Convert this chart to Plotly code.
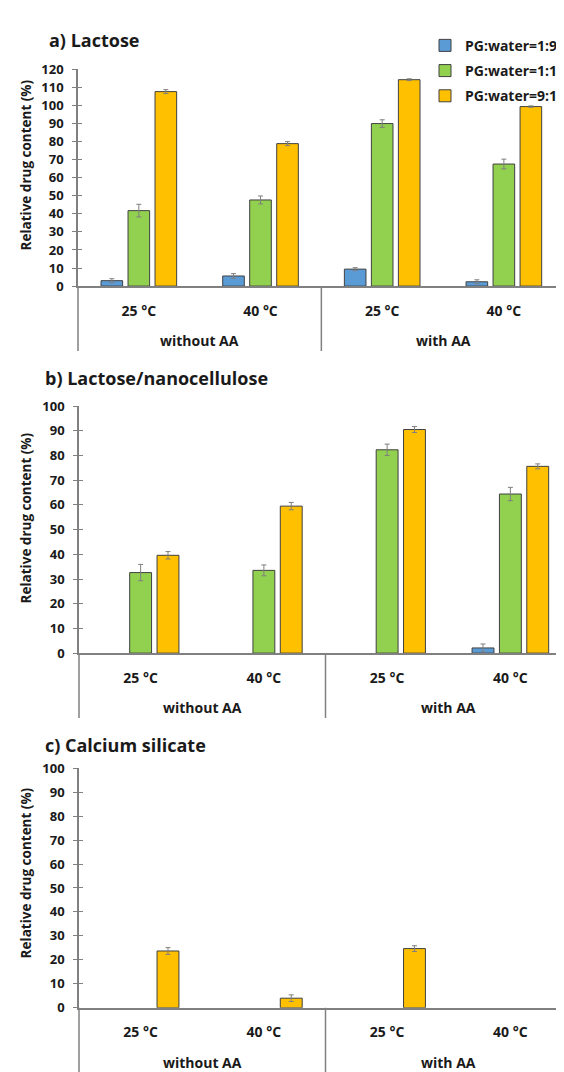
import plotly.graph_objects as go

# ---------------- data ----------------
groups = ["without AA", "with AA"]
temps = ["25 °C", "40 °C"]
series_names = ["PG:water=1:9", "PG:water=1:1", "PG:water=9:1"]
series_colors = ["#5B9BD5", "#92D050", "#FFC000"]

panel_titles = ["a) Lactose", "b) Lactose/nanocellulose", "c) Calcium silicate"]
y_max = [120, 100, 100]

# Panel a: Lactose
a_blue = [3.0, 5.6, 9.4, 2.4]
a_blue_err = [1.1, 1.3, 0.8, 1.1]
a_green = [41.8, 47.7, 90.0, 67.6]
a_green_err = [3.5, 2.2, 2.1, 2.7]
a_orange = [107.7, 78.9, 114.3, 99.4]
a_orange_err = [1.1, 1.1, 0.5, 0.4]

# Panel b: Lactose/nanocellulose
b_blue = [None, None, None, 2.1]
b_blue_err = [0, 0, 0, 1.6]
b_green = [32.6, 33.5, 82.3, 64.4]
b_green_err = [3.3, 2.2, 2.3, 2.7]
b_orange = [39.6, 59.5, 90.5, 75.6]
b_orange_err = [1.5, 1.5, 1.2, 1.0]

# Panel c: Calcium silicate
c_blue = [None, None, None, None]
c_blue_err = [0, 0, 0, 0]
c_green = [None, None, None, None]
c_green_err = [0, 0, 0, 0]
c_orange = [23.7, 4.0, 24.7, None]
c_orange_err = [1.4, 1.4, 1.2, 0]

panels = [
    [(a_blue, a_blue_err), (a_green, a_green_err), (a_orange, a_orange_err)],
    [(b_blue, b_blue_err), (b_green, b_green_err), (b_orange, b_orange_err)],
    [(c_blue, c_blue_err), (c_green, c_green_err), (c_orange, c_orange_err)],
]

# category keys (one per bar cluster)
cats = [f"{t} | {g}" for g in groups for t in temps]
cat_text = [t for g in groups for t in temps]

# ---------------- layout geometry (pixels) ----------------
W, H = 564, 1072
FONT = "Open Sans"
TXT = "#1A1A1A"
AXC = "#808080"

# plot areas: (left, right, top(y of max), bottom(y of 0))
areas = [
    (70, 556.7, 53.3, 273.7),
    (71, 564, 395.7, 647.0),
    (71, 564, 764.0, 1007.7),
]
title_pos = [(39, 23), (35, 367), (35, 740)]
ytitle_center = [151, 510, 871]


def px(x):
    return x / W


def py(y):
    return 1 - y / H


fig = go.Figure()

for p, data in enumerate(panels):
    xa = "x" if p == 0 else f"x{p + 1}"
    ya = "y" if p == 0 else f"y{p + 1}"
    for s, (vals, errs) in enumerate(data):
        fig.add_trace(go.Bar(
            x=cats, y=vals, name=series_names[s],
            marker=dict(color=series_colors[s], line=dict(color="#404040", width=1)),
            error_y=dict(type="data", array=errs, color="#7F7F7F", thickness=1, width=2.5),
            xaxis=xa, yaxis=ya,
            legendgroup=series_names[s], showlegend=(p == 0),
        ))

layout = dict(
    width=W, height=H,
    margin=dict(l=0, r=0, t=0, b=0),
    paper_bgcolor="white", plot_bgcolor="white",
    barmode="group", bargap=0.334, bargroupgap=0.2,
    showlegend=True,
    legend=dict(
        x=px(417), y=py(13), xanchor="left", yanchor="top",
        font=dict(family=FONT, size=14, color=TXT, weight="bold"),
        tracegroupgap=4, bgcolor="rgba(0,0,0,0)", itemclick=False,
    ),
    font=dict(family=FONT, color=TXT),
)

annotations = []
shapes = []
for p in range(3):
    l, r, t, b = areas[p]
    sfx = "" if p == 0 else str(p + 1)
    layout[f"xaxis{sfx}"] = dict(
        domain=[px(l), px(r)], anchor=f"y{sfx}",
        type="category", tickvals=cats, ticktext=cat_text,
        ticks="", showline=True, linecolor=AXC, linewidth=1.5,
        tickfont=dict(family=FONT, size=14, color=TXT, weight="bold"),
        ticklabelstandoff=11, showgrid=False, zeroline=False, fixedrange=True,
    )
    layout[f"yaxis{sfx}"] = dict(
        domain=[py(b), py(t)], anchor=f"x{sfx}",
        range=[0, y_max[p]], dtick=10, tick0=0,
        ticks="outside", ticklen=4, tickcolor=AXC, tickwidth=1,
        showline=True, linecolor=AXC, linewidth=1.5,
        tickfont=dict(family=FONT, size=13, color=TXT, weight="bold"),
        ticklabelstandoff=6, showgrid=False, zeroline=False, fixedrange=True,
    )
    # inside half of the cross tick marks
    ov = 4 + p
    layout[f"yaxis{ov}"] = dict(
        overlaying=f"y{sfx}", anchor=f"x{sfx}", side="left",
        range=[0, y_max[p]], dtick=10, tick0=0,
        ticks="inside", ticklen=4, tickcolor=AXC, tickwidth=1,
        showticklabels=False, showline=False, showgrid=False, zeroline=False,
        fixedrange=True,
    )
    fig.add_trace(go.Scatter(x=[], y=[], xaxis=f"x{sfx}", yaxis=f"y{ov}",
                             showlegend=False, hoverinfo="skip"))

    # panel title
    annotations.append(dict(
        text=panel_titles[p], xref="paper", yref="paper",
        x=px(title_pos[p][0]), y=py(title_pos[p][1]),
        xanchor="left", yanchor="middle", showarrow=False,
        font=dict(family=FONT, size=18, color=TXT, weight="bold"),
    ))
    # y-axis title
    annotations.append(dict(
        text="Relative drug content (%)", xref="paper", yref="paper",
        x=px(18), y=py(ytitle_center[p]), textangle=-90,
        xanchor="center", yanchor="middle", showarrow=False,
        font=dict(family=FONT, size=13.5, color=TXT, weight="bold"),
    ))
    # group labels
    for gi, g in enumerate(groups):
        annotations.append(dict(
            text=g, xref=f"x{sfx} domain", yref="paper",
            x=0.25 + 0.5 * gi, y=py(b + 55.5),
            xanchor="center", yanchor="middle", showarrow=False,
            font=dict(family=FONT, size=14, color=TXT, weight="bold"),
        ))
    # divider lines of the category box
    dividers = [0, 0.5, 1] if p == 0 else [0, 0.5]
    for d in dividers:
        shapes.append(dict(
            type="line", xref=f"x{sfx} domain", yref="paper",
            x0=d, x1=d, y0=py(b), y1=py(b + 66),
            line=dict(color=AXC, width=1.5),
        ))

layout["annotations"] = annotations
layout["shapes"] = shapes
fig.update_layout(**layout)

fig.write_html("out.html")
